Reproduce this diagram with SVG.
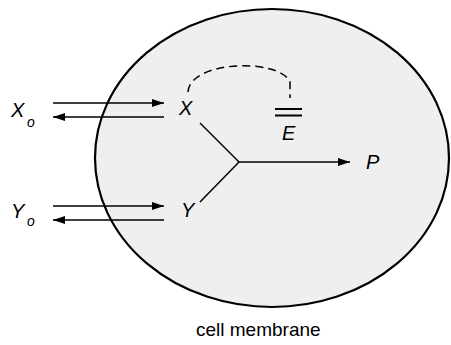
<svg xmlns="http://www.w3.org/2000/svg" width="451" height="345" viewBox="0 0 451 345">
<defs>
<marker id="ah" viewBox="0 0 12 10" refX="12" refY="5" markerWidth="12" markerHeight="10" markerUnits="userSpaceOnUse" orient="auto"><path d="M0,1 L12,5 L0,9 Z" fill="#000"/></marker>
<style>
.t{font-family:"Liberation Sans",Arial,sans-serif;font-style:italic;font-size:20px;fill:#000}
.s{font-family:"Liberation Sans",Arial,sans-serif;font-style:italic;font-size:14px;fill:#000}
.c{font-family:"Liberation Sans",Arial,sans-serif;font-size:19px;fill:#000}
.ln{stroke:#000;stroke-width:1.5;fill:none}
</style>
</defs>
<g id="cell"><ellipse cx="272" cy="158" rx="177" ry="149" fill="#efefef" stroke="#000" stroke-width="2.2"/></g>
<g id="connectors">
<line class="ln" x1="53" y1="103" x2="164" y2="103" marker-end="url(#ah)"/>
<line class="ln" x1="164" y1="117" x2="53" y2="117" marker-end="url(#ah)"/>
<line class="ln" x1="53" y1="206" x2="164" y2="206" marker-end="url(#ah)"/>
<line class="ln" x1="164" y1="220" x2="53" y2="220" marker-end="url(#ah)"/>
<line class="ln" x1="200" y1="123" x2="239" y2="162"/>
<line class="ln" x1="200" y1="202" x2="239" y2="162"/>
<line class="ln" x1="239" y1="162" x2="350" y2="162" marker-end="url(#ah)"/>
<path class="ln" d="M188,92 C190,60 280,58 290,82 L290,98" stroke-dasharray="8,5" stroke-width="1.2"/>
</g>
<g id="Xo"><text class="t" x="11" y="117">X</text><text class="s" x="27" y="127">o</text></g>
<g id="Yo"><text class="t" x="11" y="218">Y</text><text class="s" x="27" y="226">o</text></g>
<g id="X"><text class="t" x="179" y="115">X</text></g>
<g id="Y"><text class="t" x="181" y="217">Y</text></g>
<g id="E"><line x1="275" y1="109" x2="302" y2="109" stroke="#000" stroke-width="2"/><line x1="275" y1="115.5" x2="302" y2="115.5" stroke="#000" stroke-width="2"/><text class="t" x="282" y="140">E</text></g>
<g id="P"><text class="t" x="366" y="169">P</text></g>
<g id="label"><text class="c" x="196" y="336">cell membrane</text></g>
</svg>
